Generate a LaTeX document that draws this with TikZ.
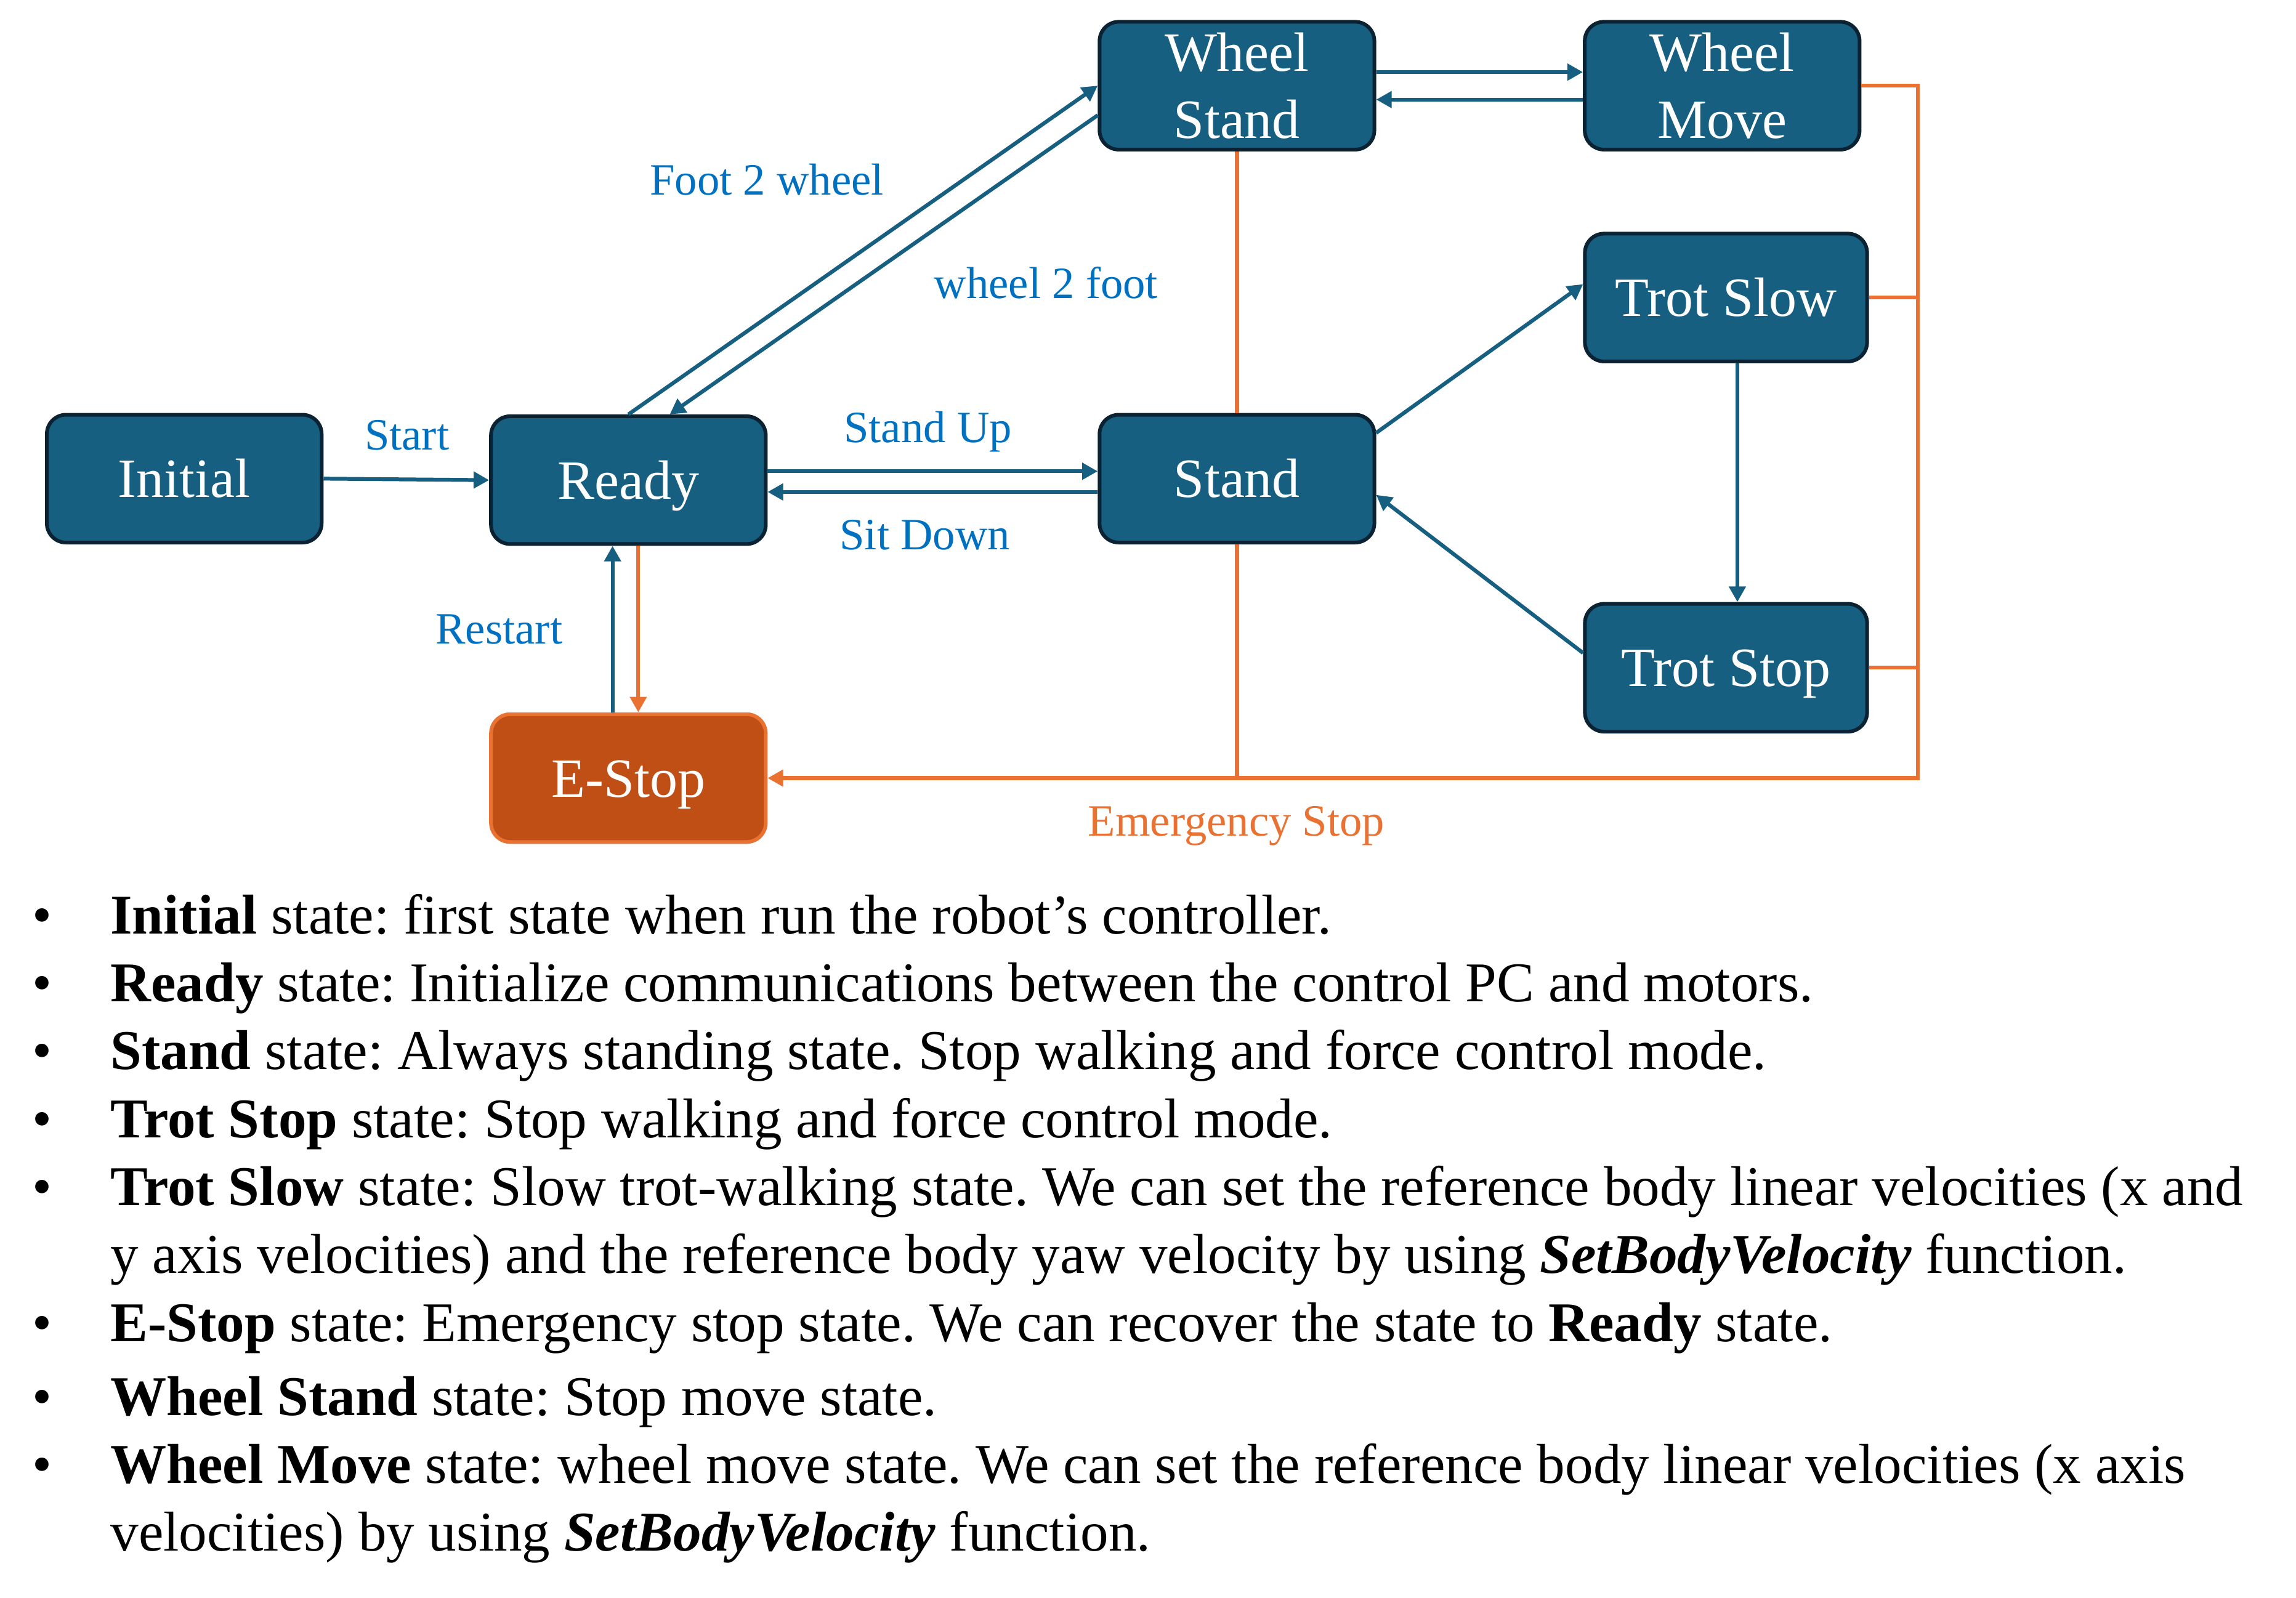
\documentclass[tikz,border=0pt]{standalone}
\usepackage{fontspec}
\setmainfont{Liberation Serif}
\usetikzlibrary{arrows.meta,calc}
\definecolor{nodefill}{HTML}{175F80}
\definecolor{nodeedge}{HTML}{0B2233}
\definecolor{arrblue}{HTML}{175F80}
\definecolor{lblblue}{HTML}{0070C0}
\definecolor{emorange}{HTML}{E97132}
\definecolor{estopfill}{HTML}{C04F15}
\frenchspacing
\begin{document}
\begin{tikzpicture}[x=1pt,y=-1pt,
  state/.style={draw=nodeedge, line width=2.5pt, fill=nodefill, rounded corners=13pt,
    minimum width=186pt, minimum height=86.5pt, inner sep=0pt, text=white,
    font=\fontsize{37.5}{45.4}\selectfont, align=center},
  oneline/.style={text height=25.5pt, text depth=0pt},
  tip/.style={-{Triangle[length=10.5pt,width=11pt]}},
  arr/.style={draw=arrblue, line width=2.6pt, tip},
  orline/.style={draw=emorange, line width=2.6pt},
  orarr/.style={orline, tip},
  lbl/.style={text=lblblue, font=\fontsize{30.3}{36}\selectfont, anchor=base, inner sep=0pt},
  orlbl/.style={lbl, text=emorange},
  txt/.style={anchor=base west, inner sep=0pt, font=\fontsize{38}{46}\selectfont},
  bul/.style={anchor=base, inner sep=0pt, font=\fontsize{38}{46}\selectfont}
]
\useasboundingbox (0,0) rectangle (1554,1081.7);

% states
\node[state,oneline] (Init)  at (124.7,324)  {Initial};
\node[state,oneline] (Ready) at (425.3,325)  {Ready};
\node[state,oneline,draw=emorange,fill=estopfill] (EStop) at (425.3,526.7) {E-Stop};
\node[state] (WS) at (837.2,58) {Wheel\\Stand};
\node[state] (WM) at (1165.6,58) {Wheel\\Move};
\node[state,oneline] (Stand) at (837.2,324) {Stand};
\node[state,oneline,minimum width=191pt] (TSlow) at (1168.2,201.4) {Trot Slow};
\node[state,oneline,minimum width=191pt] (TStop) at (1168.2,452) {Trot Stop};

\coordinate (bus) at (1298,0);

% blue transitions
\draw[arr] (Init.east) -- (Ready.west);
\draw[arr] ($(Ready.east)+(0,-6)$) -- ($(Stand.west)+(0,-5)$);
\draw[arr] ($(Stand.west)+(0,9)$) -- ($(Ready.east)+(0,8)$);
\draw[arr] (Ready.north) -- (WS.west);
\draw[arr] ($(WS.west)+(0,20)$) -- ($(Ready.north)+(28,0)$);
\draw[arr] ($(WS.east)+(0,-9.2)$) -- ($(WM.west)+(0,-9.2)$);
\draw[arr] ($(WM.west)+(0,9.4)$) -- ($(WS.east)+(0,9.4)$);
\draw[arr] ($(Stand.east)+(0,-31)$) -- ($(TSlow.west)+(0,-9)$);
\draw[arr] ($(TStop.west)+(0,-10)$) -- ($(Stand.east)+(0,11)$);
\draw[arr] ($(TSlow.south)+(7.7,0)$) -- ($(TStop.north)+(7.7,0)$);
\draw[arr] ($(EStop.north)+(-10.7,0)$) -- ($(Ready.south)+(-10.7,0)$);

% orange emergency transitions
\draw[orarr] ($(Ready.south)+(6.7,0)$) -- ($(EStop.north)+(6.7,0)$);
\draw[orarr] (WM.east) -| (bus |- EStop.east) -- (EStop.east);
\draw[orline] (TSlow.east) -- (TSlow.east -| bus);
\draw[orline] (TStop.east) -- (TStop.east -| bus);
\draw[orline] (WS.south) -- (Stand.north);
\draw[orline] (Stand.south) -- (Stand.south |- EStop.east);

% labels
\node[lbl] (lStart)   at (275.4,304.5) {Start};
\node[lbl] (lRestart) at (337.8,436)   {Restart};
\node[lbl] (lF2W)     at (519,132)     {Foot 2 wheel};
\node[lbl] (lW2F)     at (708,202)     {wheel 2 foot};
\node[lbl] (lUp)      at (628,299.6)   {Stand Up};
\node[lbl] (lDown)    at (626,372)     {Sit Down};
\node[orlbl] (lEm)    at (836.8,565.7) {Emergency Stop};

% description
\node[bul] (b1)  at (28.5,632)  {•};
\node[bul] (b2)  at (28.5,678)  {•};
\node[bul] (b3)  at (28.5,724)  {•};
\node[bul] (b4)  at (28.5,770)  {•};
\node[bul] (b5)  at (28.5,816)  {•};
\node[bul] (b6)  at (28.5,908)  {•};
\node[bul] (b7)  at (28.5,958)  {•};
\node[bul] (b8)  at (28.5,1004) {•};

\node[txt] (t1)  at (74.6,632)  {\textbf{Initial} state: first state when run the robot’s controller.};
\node[txt] (t2)  at (74.6,678)  {\textbf{Ready} state: Initialize communications between the control PC and motors.};
\node[txt] (t3)  at (74.6,724)  {\textbf{Stand} state: Always standing state. Stop walking and force control mode.};
\node[txt] (t4)  at (74.6,770)  {\textbf{Trot Stop} state: Stop walking and force control mode.};
\node[txt] (t5)  at (74.6,816)  {\textbf{Trot Slow} state: Slow trot-walking state. We can set the reference body linear velocities (x and};
\node[txt] (t6)  at (74.6,862)  {y axis velocities) and the reference body yaw velocity by using \textbf{\textit{SetBodyVelocity}} function.};
\node[txt] (t7)  at (74.6,908)  {\textbf{E-Stop} state: Emergency stop state. We can recover the state to \textbf{Ready} state.};
\node[txt] (t8)  at (74.6,958)  {\textbf{Wheel Stand} state: Stop move state.};
\node[txt] (t9)  at (74.6,1004) {\textbf{Wheel Move} state: wheel move state. We can set the reference body linear velocities (x axis};
\node[txt] (t10) at (74.6,1050) {velocities) by using \textbf{\textit{SetBodyVelocity}} function.};
\end{tikzpicture}
\end{document}
